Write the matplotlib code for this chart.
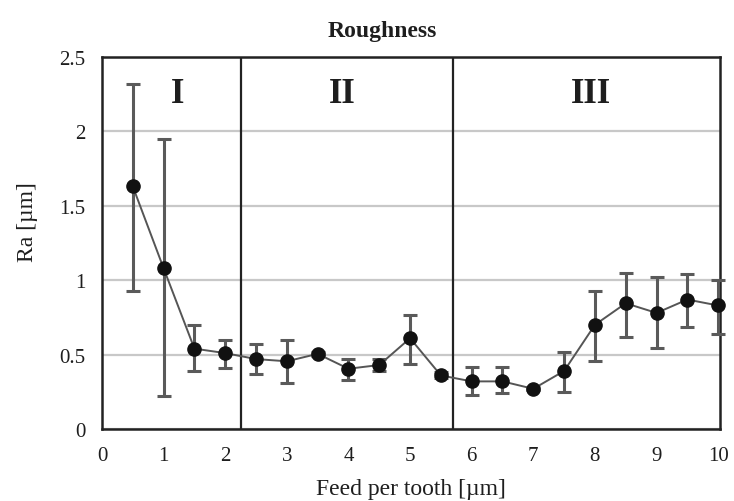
import matplotlib
matplotlib.use("Agg")
import matplotlib.pyplot as plt

feed = [0.5, 1, 1.5, 2, 2.5, 3, 3.5, 4, 4.5, 5, 5.5, 6, 6.5, 7, 7.5, 8, 8.5, 9, 9.5, 10]
ra = [1.63, 1.08, 0.54, 0.51, 0.47, 0.455, 0.505, 0.405, 0.43, 0.61, 0.36, 0.32, 0.32, 0.27, 0.39, 0.70, 0.845, 0.78, 0.87, 0.83]
err_hi = [2.32, 1.95, 0.70, 0.60, 0.57, 0.60, 0.52, 0.47, 0.47, 0.765, 0.38, 0.415, 0.415, 0.28, 0.52, 0.93, 1.05, 1.02, 1.04, 1.00]
err_lo = [0.93, 0.22, 0.39, 0.41, 0.37, 0.31, 0.49, 0.33, 0.39, 0.44, 0.34, 0.23, 0.24, 0.26, 0.25, 0.455, 0.62, 0.545, 0.685, 0.64]
region_bounds = [2.25, 5.7]
region_labels = ["I", "II", "III"]
region_label_x = [1.22, 3.9, 7.93]
region_label_y = 2.255
xticks = list(range(0, 11))
yticks = [0, 0.5, 1, 1.5, 2, 2.5]
ytick_labels = ["0", "0.5", "1", "1.5", "2", "2.5"]

plt.rcParams['font.family'] = ['Liberation Serif', 'DejaVu Serif']

W, H = 734, 502
fig = plt.figure(figsize=(W / 100, H / 100), dpi=100)
ax = fig.add_axes([102 / W, 1 - 430 / H, 618 / W, 372 / H])

lower = [r - l for r, l in zip(ra, err_lo)]
upper = [h - r for r, h in zip(ra, err_hi)]
eb = ax.errorbar(feed, ra, yerr=[lower, upper], fmt='none', ecolor='#5a5a5a',
                 elinewidth=2.2, capsize=5, capthick=2.2, zorder=3)
for art in eb.get_children():
    art.set_clip_on(False)
ax.plot(feed, ra, color='#555555', lw=1.4, zorder=4, clip_on=False)
ax.plot(feed, ra, 'o', color='#111111', ms=9.5, zorder=5, clip_on=False)

for b in region_bounds:
    ax.axvline(b, color='#222222', lw=1.6, zorder=2)

for lab, lx in zip(region_labels, region_label_x):
    ax.text(lx, region_label_y, lab, ha='center', va='center',
            fontsize=25, fontweight='bold', color='#1e1e1e')

ax.set_xlim(0, 10.03)
ax.set_ylim(0, 2.5)
ax.set_xticks(xticks)
ax.set_yticks(yticks)
ax.set_yticklabels(ytick_labels)
ax.yaxis.grid(True, color='#c8c8c8', lw=1.6)
ax.set_axisbelow(True)
ax.tick_params(length=0, labelsize=15, colors='#1e1e1e')
ax.tick_params(axis='x', pad=12)
ax.tick_params(axis='y', pad=12)
for s in ax.spines.values():
    s.set_color('#222222')
    s.set_linewidth(1.8)

fig.text(382 / W, 1 - 37 / H, 'Roughness', ha='center', va='baseline',
         fontsize=17, fontweight='bold', color='#1e1e1e')
fig.text(411 / W, 1 - 495 / H, 'Feed per tooth [µm]', ha='center', va='baseline',
         fontsize=17, color='#1e1e1e')
fig.text(28 / W, 1 - 222 / H, 'Ra [µm]', ha='center', va='center', rotation=90,
         fontsize=17, color='#1e1e1e')

fig.savefig('out.png', dpi=100)
